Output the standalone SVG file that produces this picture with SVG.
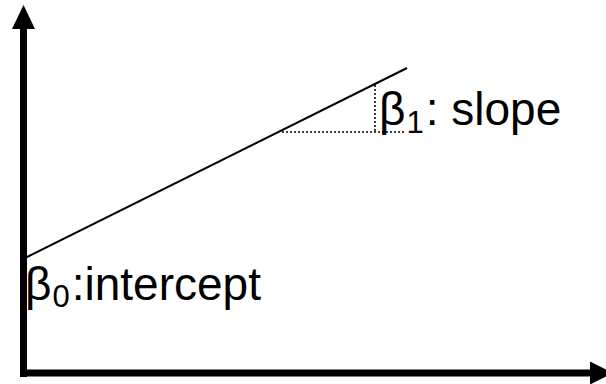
<svg xmlns="http://www.w3.org/2000/svg" width="606" height="384" viewBox="0 0 606 384">
<style>
.axis{stroke:#000;stroke-width:7;fill:none}
.head{fill:#000}
.ln{stroke:#000;stroke-width:2;fill:none}
.dot{stroke:#000;stroke-width:1.5;stroke-dasharray:2 2;fill:none}
.t{font-family:"Liberation Sans",Arial,sans-serif;font-size:46px;fill:#000}
.s{font-size:31px}
</style>
<rect width="606" height="384" fill="#fff"/>
<g id="axes">
<line class="axis" x1="23.5" y1="377" x2="23.5" y2="26"/>
<polygon class="head" points="23.5,5 12,29 35,29"/>
<line class="axis" x1="20" y1="373" x2="592" y2="373"/>
<polygon class="head" points="613,373 590,361.5 590,384.5"/>
</g>
<g id="regression-line">
<line class="ln" x1="23" y1="259" x2="407" y2="68"/>
<polyline class="dot" points="282,132 405,132"/>
<polyline class="dot" points="375,85 375,132"/>
</g>
<g id="labels">
<text class="t" x="379" y="125">β<tspan class="s" dy="8" dx="1">1</tspan><tspan dy="-8" dx="2">: slope</tspan></text>
<text class="t" x="25" y="300">β<tspan class="s" dy="7" dx="1">0</tspan><tspan dy="-7" dx="2">:intercept</tspan></text>
</g>
</svg>
